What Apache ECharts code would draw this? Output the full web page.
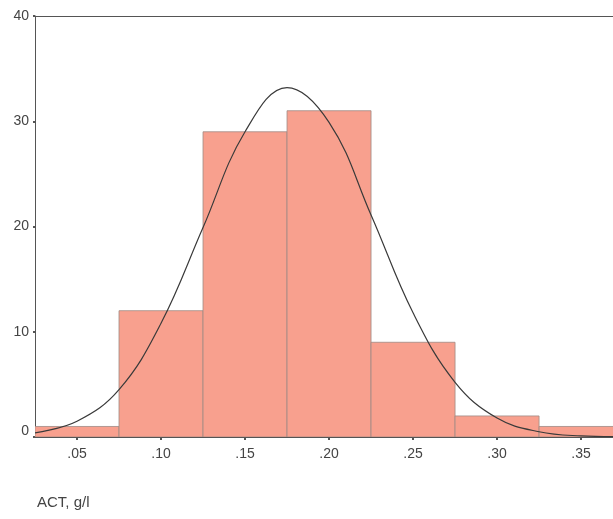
<!DOCTYPE html>
<html><head><meta charset="utf-8">
<script src="https://cdn.jsdelivr.net/npm/echarts@6/dist/echarts.min.js"></script>
<style>html,body{margin:0;padding:0;background:#fff}#c{width:613px;height:519px}</style>
</head><body><div id="c"></div>
<script>
// Histogram bins (lower edge, upper edge) and counts
const binStarts = [0.025, 0.075, 0.125, 0.175, 0.225, 0.275, 0.325];
const binEnds   = [0.075, 0.125, 0.175, 0.225, 0.275, 0.325, 0.375];
const counts    = [1, 12, 29, 31, 9, 2, 1];
// Fitted normal curve
const curveX = [0.025, 0.05, 0.075, 0.1, 0.125, 0.15, 0.175, 0.2, 0.225, 0.25, 0.275, 0.3, 0.325, 0.35, 0.37];
const curveY = [0.4, 1.5, 4.5, 10.8, 19.9, 29.0, 33.2, 29.9, 21.1, 11.8, 5.2, 1.8, 0.5, 0.1, 0.03];
const xTicks = [0.05, 0.10, 0.15, 0.20, 0.25, 0.30, 0.35];
const xTickLabels = ['.05', '.10', '.15', '.20', '.25', '.30', '.35'];
const yTicks = [0, 10, 20, 30, 40];
const xTitle = 'ACT, g/l';

const chart = echarts.init(document.getElementById('c'), null, {renderer: 'canvas'});
const barData = binStarts.map((s, i) => [s, binEnds[i], counts[i]]);
const curveData = curveX.map((x, i) => [x, curveY[i]]);
const lbl = {color: '#444', fontSize: 14, fontFamily: 'Liberation Sans, Arial, sans-serif'};

chart.setOption({
  animation: false,
  grid: {left: 35, right: 0, top: 16, bottom: 82, containLabel: false},
  xAxis: [{
    type: 'value', min: 0.025, max: 0.369,
    axisLine: {show: true, lineStyle: {color: '#555', width: 1}},
    axisTick: {show: true, length: 3, customValues: xTicks, lineStyle: {color: '#555', width: 2}},
    axisLabel: Object.assign({}, lbl, {customValues: xTicks, margin: 10,
      formatter: v => { const i = xTicks.findIndex(t => Math.abs(t - v) < 1e-6); return i >= 0 ? xTickLabels[i] : ''; }}),
    splitLine: {show: false}
  }, {
    type: 'value', min: 0.025, max: 0.369, position: 'top',
    axisLine: {show: true, lineStyle: {color: '#555', width: 1}},
    axisTick: {show: false}, axisLabel: {show: false}, splitLine: {show: false}
  }],
  yAxis: {
    type: 'value', min: 0, max: 40, interval: 10,
    axisLine: {show: true, lineStyle: {color: '#555', width: 1}},
    axisTick: {show: true, length: 2, lineStyle: {color: '#555', width: 2}},
    axisLabel: Object.assign({}, lbl, {margin: 6,
      formatter: v => yTicks.includes(v) ? (v === 0 ? '{z|0}' : String(v)) : '',
      rich: {z: {color: '#444', fontSize: 14, fontFamily: 'Liberation Sans, Arial, sans-serif', padding: [0, 0, 12, 0]}}}),
    splitLine: {show: false}
  },
  graphic: [{
    type: 'text', left: 37, top: 495,
    style: {text: xTitle, fill: '#444', font: '15px "Liberation Sans", Arial, sans-serif'}
  }],
  series: [{
    type: 'custom',
    data: barData,
    clip: true,
    renderItem: function (params, api) {
      const p0 = api.coord([api.value(0), api.value(2)]);
      const p1 = api.coord([api.value(1), 0]);
      return {
        type: 'rect',
        shape: {x: p0[0], y: p0[1], width: p1[0] - p0[0], height: p1[1] - p0[1]},
        style: {fill: '#f8a08e', stroke: '#a08a84', lineWidth: 0.8}
      };
    },
    encode: {x: [0, 1], y: 2},
    z: 2
  }, {
    type: 'line',
    data: curveData,
    smooth: 0.4,
    showSymbol: false,
    lineStyle: {color: '#3a3a3a', width: 1.2},
    z: 3
  }]
});
</script></body></html>
